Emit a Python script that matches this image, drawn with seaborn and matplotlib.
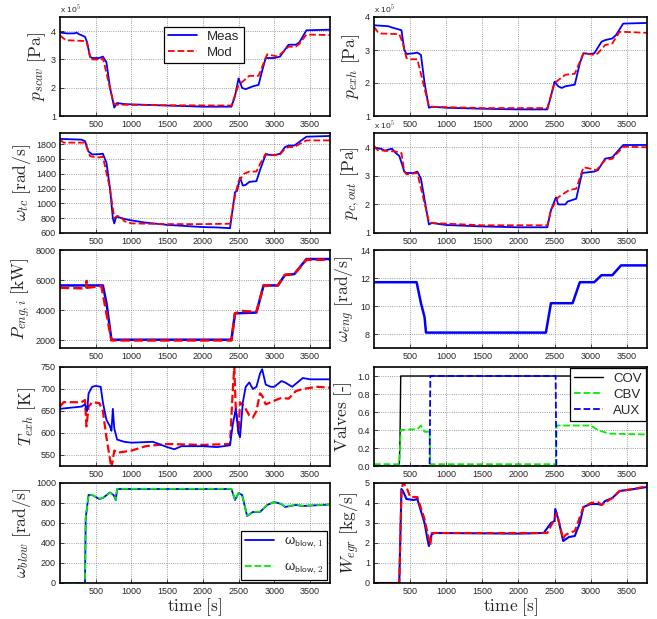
import numpy as np
import pandas as pd
import matplotlib
matplotlib.use('Agg')
import matplotlib.pyplot as plt
import seaborn as sns

# ---- data (time in s) ----
t_pscav_meas = [0, 100, 200, 230, 260, 350, 380, 420, 450, 550, 600, 650, 700, 760, 800, 900, 1500, 2000, 2400, 2450, 2500, 2550, 2600, 2700, 2780, 2830, 2880, 3000, 3080, 3150, 3200, 3300, 3350, 3450, 3780]
pscav_meas = [3.95, 3.92, 3.92, 3.95, 3.9, 3.8, 3.6, 3.1, 3.05, 3.05, 3.1, 2.9, 2.0, 1.3, 1.46, 1.42, 1.37, 1.33, 1.33, 1.7, 2.33, 1.99, 1.95, 2.05, 2.1, 2.6, 3.05, 3.05, 3.1, 3.35, 3.52, 3.52, 3.6, 4.03, 4.05]
t_pscav_mod = [0, 80, 370, 430, 580, 600, 750, 800, 1500, 2400, 2500, 2550, 2650, 2780, 2900, 3050, 3200, 3300, 3350, 3450, 3780]
pscav_mod = [3.85, 3.68, 3.65, 3.0, 3.0, 3.05, 1.45, 1.4, 1.38, 1.37, 2.1, 2.2, 2.42, 2.42, 3.18, 3.1, 3.45, 3.45, 3.55, 3.88, 3.86]

t_pexh_meas = [0, 200, 250, 300, 380, 420, 450, 550, 600, 650, 700, 760, 800, 1000, 1500, 2000, 2400, 2450, 2500, 2550, 2600, 2650, 2780, 2850, 2900, 3000, 3050, 3150, 3200, 3300, 3350, 3450, 3780]
pexh_meas = [3.75, 3.72, 3.68, 3.65, 3.6, 3.0, 2.88, 2.9, 2.92, 2.85, 2.0, 1.25, 1.28, 1.25, 1.22, 1.2, 1.2, 1.6, 2.04, 1.9, 1.85, 1.9, 1.95, 2.6, 2.9, 2.88, 2.9, 3.25, 3.3, 3.35, 3.45, 3.8, 3.82]
t_pexh_mod = [0, 50, 100, 350, 400, 450, 500, 600, 760, 800, 1500, 2400, 2500, 2650, 2780, 2900, 3050, 3100, 3200, 3300, 3400, 3450, 3780]
pexh_mod = [3.7, 3.55, 3.5, 3.48, 3.2, 2.75, 2.72, 2.72, 1.3, 1.28, 1.24, 1.24, 2.0, 2.25, 2.28, 2.9, 2.85, 2.9, 3.15, 3.2, 3.55, 3.55, 3.52]

t_wtc_meas = [0, 300, 350, 400, 450, 550, 600, 650, 700, 740, 760, 780, 800, 900, 1000, 1200, 1500, 2000, 2200, 2380, 2450, 2480, 2520, 2560, 2600, 2650, 2750, 2800, 2880, 3000, 3080, 3150, 3200, 3280, 3350, 3450, 3780]
wtc_meas = [1870, 1860, 1840, 1700, 1660, 1665, 1670, 1550, 1200, 800, 730, 800, 820, 790, 770, 740, 710, 680, 675, 665, 1150, 1170, 1350, 1240, 1250, 1290, 1300, 1450, 1660, 1650, 1670, 1760, 1780, 1780, 1830, 1900, 1910]
t_wtc_mod = [0, 50, 350, 420, 450, 550, 600, 700, 760, 800, 850, 900, 1000, 1500, 2000, 2380, 2450, 2500, 2580, 2650, 2750, 2800, 2880, 3000, 3080, 3150, 3200, 3280, 3350, 3450, 3780]
wtc_mod = [1860, 1820, 1820, 1640, 1630, 1620, 1630, 1200, 800, 830, 820, 760, 730, 720, 720, 725, 1100, 1300, 1400, 1430, 1430, 1530, 1670, 1650, 1660, 1740, 1760, 1760, 1800, 1850, 1850]

t_pcout_meas = [0, 100, 150, 200, 250, 300, 350, 420, 450, 550, 600, 650, 760, 800, 1000, 1500, 2000, 2400, 2450, 2520, 2550, 2650, 2680, 2800, 2880, 3050, 3100, 3200, 3300, 3450, 3780]
pcout_meas = [3.97, 3.95, 3.88, 3.92, 3.95, 3.8, 3.7, 3.15, 3.1, 3.1, 3.15, 2.9, 1.3, 1.35, 1.28, 1.23, 1.2, 1.2, 1.8, 2.25, 2.0, 2.0, 2.1, 2.2, 3.1, 3.15, 3.2, 3.6, 3.65, 4.08, 4.08]
t_pcout_mod = [0, 50, 300, 380, 420, 450, 600, 760, 800, 1500, 2400, 2450, 2550, 2700, 2800, 2900, 3000, 3080, 3200, 3300, 3450, 3780]
pcout_mod = [4.05, 3.9, 3.85, 3.8, 3.15, 3.05, 3.1, 1.4, 1.35, 1.27, 1.27, 1.8, 2.25, 2.5, 2.55, 3.3, 3.25, 3.2, 3.55, 3.6, 4.02, 4.0]

t_peng_meas = [0, 600, 650, 720, 2400, 2450, 2750, 2850, 3050, 3150, 3280, 3450, 3780]
peng_meas = [5650, 5650, 4500, 2050, 2050, 3800, 3850, 5650, 5650, 6350, 6400, 7400, 7400]
t_peng_mod = [0, 350, 368, 372, 380, 580, 720, 2400, 2450, 2550, 2750, 2850, 3050, 3150, 3280, 3450, 3780]
peng_mod = [5500, 5450, 5450, 5950, 5500, 5600, 2000, 2000, 3800, 3950, 3900, 5650, 5650, 6350, 6400, 7350, 7350]

t_weng = [0, 590, 650, 700, 720, 2380, 2450, 2750, 2850, 3050, 3150, 3300, 3420, 3780]
weng = [11.7, 11.7, 10.2, 9.2, 8.1, 8.1, 10.2, 10.2, 11.7, 11.7, 12.2, 12.2, 12.9, 12.9]

t_texh_meas = [0, 300, 350, 380, 400, 450, 500, 570, 600, 650, 700, 720, 740, 760, 800, 900, 1000, 1300, 1500, 1600, 1700, 2000, 2200, 2380, 2420, 2460, 2500, 2520, 2560, 2600, 2650, 2700, 2750, 2800, 2830, 2880, 2950, 3000, 3100, 3150, 3250, 3400, 3500, 3780]
texh_meas = [655, 660, 665, 650, 690, 705, 707, 705, 670, 630, 615, 605, 655, 610, 585, 580, 578, 580, 568, 563, 570, 570, 568, 572, 620, 655, 600, 590, 670, 705, 715, 700, 705, 735, 745, 710, 705, 705, 718, 715, 705, 725, 722, 722]
t_texh_mod = [0, 50, 300, 350, 370, 400, 450, 550, 600, 650, 700, 720, 760, 800, 1000, 1200, 1500, 2000, 2380, 2420, 2440, 2460, 2500, 2520, 2580, 2650, 2700, 2750, 2800, 2830, 2880, 2950, 3100, 3200, 3300, 3400, 3600, 3780]
texh_mod = [660, 670, 670, 675, 615, 660, 670, 668, 650, 590, 540, 520, 560, 555, 560, 570, 575, 573, 575, 700, 750, 660, 600, 670, 660, 640, 635, 650, 690, 685, 665, 670, 680, 678, 695, 700, 705, 703]

t_cov = [0, 350, 360, 370, 3780]
cov = [0.0, 0.0, 0.3, 1.0, 1.0]
t_cbv = [0, 350, 370, 600, 650, 700, 770, 780, 2515, 2530, 3000, 3100, 3250, 3780]
cbv = [0.02, 0.02, 0.4, 0.41, 0.45, 0.38, 0.38, 0.02, 0.02, 0.45, 0.45, 0.4, 0.36, 0.35]
t_aux = [0, 770, 780, 2515, 2525, 3780]
aux = [0.0, 0.0, 1.0, 1.0, 0.0, 0.0]

t_wblow = [0, 350, 360, 400, 450, 550, 600, 700, 750, 780, 800, 2400, 2450, 2480, 2500, 2550, 2620, 2700, 2800, 2900, 3000, 3100, 3150, 3300, 3400, 3780]
wblow1 = [0, 0, 650, 880, 880, 840, 850, 905, 880, 830, 940, 940, 830, 870, 900, 880, 670, 710, 710, 780, 810, 790, 760, 780, 770, 785]
wblow2 = [0, 0, 650, 885, 880, 842, 852, 902, 882, 832, 942, 942, 832, 872, 898, 878, 672, 712, 712, 782, 808, 792, 762, 782, 772, 787]

t_wegr_meas = [0, 350, 380, 400, 450, 550, 600, 700, 740, 760, 800, 850, 2000, 2350, 2450, 2500, 2510, 2550, 2620, 2700, 2780, 2850, 2900, 3000, 3100, 3150, 3200, 3300, 3400, 3600, 3780]
wegr_meas = [0, 0, 4.7, 4.6, 4.2, 4.15, 4.2, 3.0, 2.2, 1.85, 2.45, 2.5, 2.47, 2.5, 3.0, 3.1, 3.7, 3.2, 2.1, 2.3, 2.35, 3.0, 3.8, 3.95, 3.95, 3.9, 4.1, 4.25, 4.6, 4.7, 4.8]
t_wegr_mod = [0, 350, 380, 400, 450, 500, 600, 700, 760, 780, 800, 2400, 2500, 2530, 2620, 2650, 2700, 2780, 2900, 3000, 3100, 3150, 3300, 3400, 3600, 3780]
wegr_mod = [0, 0, 4.5, 5.0, 4.8, 4.3, 4.3, 3.2, 2.2, 1.9, 2.5, 2.5, 3.2, 3.5, 2.2, 2.4, 2.5, 2.6, 3.8, 4.0, 4.05, 3.9, 4.25, 4.6, 4.7, 4.85]

xticks = [500, 1000, 1500, 2000, 2500, 3000, 3500]

# ---- style ----
sns.set_style('ticks')
plt.rcParams['font.family'] = ['Liberation Sans', 'DejaVu Sans']
plt.rcParams['mathtext.fontset'] = 'cm'

BLUE, RED, GREEN = '#0000ff', '#ff0000', '#00ee00'

fig = plt.figure(figsize=(6.57, 6.19), dpi=100)
W, H = 657, 619
col_x = [(60, 330), (374, 647)]
row_y = [(17, 116), (133, 233), (250, 348), (367, 466), (483, 583)]


def make_ax(r, c):
    x0, x1 = col_x[c]
    y0, y1 = row_y[r]
    return fig.add_axes([x0 / W, 1 - y1 / H, (x1 - x0) / W, (y1 - y0) / H])


def line(ax, t, y, color, ls='-', lw=1.3, label=None):
    sns.lineplot(x=t, y=y, ax=ax, color=color, linestyle=ls, linewidth=lw,
                 estimator=None, sort=False, label=label, legend=False)


def finish(ax, ylim, yticks, ylabel, xlabel=False, sci=False):
    ax.set_xlim(0, 3780)
    ax.set_ylim(*ylim)
    ax.set_xticks(xticks)
    ax.set_yticks(yticks)
    ax.grid(True, linestyle=':', color='0.5', linewidth=0.6)
    ax.tick_params(direction='in', labelsize=6.5, length=3, width=0.6, pad=3)
    for s in ax.spines.values():
        s.set_linewidth(1.2)
        s.set_color('black')
    ax.set_ylabel(ylabel, fontsize=12.5, labelpad=2)
    if xlabel:
        ax.set_xlabel(r'$\mathrm{time\ [s]}$', fontsize=12.5, labelpad=0)
    else:
        ax.set_xlabel('')
    if sci:
        ax.text(0.0, 1.02, r'x 10$^{5}$', transform=ax.transAxes, fontsize=6,
                ha='left', va='bottom')


def legend(ax, spacing=0.3, **kw):
    leg = ax.legend(fontsize=9.5, frameon=True, fancybox=False, framealpha=1,
                    edgecolor='black', handlelength=2.2, borderpad=0.3,
                    labelspacing=spacing, **kw)
    leg.get_frame().set_linewidth(0.9)
    return leg


# p_scav
ax = make_ax(0, 0)
line(ax, t_pscav_meas, pscav_meas, BLUE, label='Meas')
line(ax, t_pscav_mod, pscav_mod, RED, '--', label='Mod')
finish(ax, (1, 4.5), [1, 2, 3, 4], r'$p_{scav}\ \mathrm{[Pa]}$', sci=True)
legend(ax, loc='upper left', bbox_to_anchor=(0.36, 0.97))

# p_exh
ax = make_ax(0, 1)
line(ax, t_pexh_meas, pexh_meas, BLUE)
line(ax, t_pexh_mod, pexh_mod, RED, '--')
finish(ax, (1, 4), [1, 2, 3, 4], r'$p_{exh}\ \mathrm{[Pa]}$', sci=True)

# omega_tc
ax = make_ax(1, 0)
line(ax, t_wtc_meas, wtc_meas, BLUE)
line(ax, t_wtc_mod, wtc_mod, RED, '--')
finish(ax, (600, 1950), [600, 800, 1000, 1200, 1400, 1600, 1800],
       r'$\omega_{tc}\ \mathrm{[rad/s]}$')

# p_c,out
ax = make_ax(1, 1)
line(ax, t_pcout_meas, pcout_meas, BLUE)
line(ax, t_pcout_mod, pcout_mod, RED, '--')
finish(ax, (1, 4.5), [1, 2, 3, 4], r'$p_{c,out}\ \mathrm{[Pa]}$', sci=True)

# P_eng,i
ax = make_ax(2, 0)
line(ax, t_peng_meas, peng_meas, BLUE, lw=1.8)
line(ax, t_peng_mod, peng_mod, RED, '--', lw=1.8)
finish(ax, (1500, 8000), [2000, 4000, 6000, 8000], r'$P_{eng,i}\ \mathrm{[kW]}$')

# omega_eng
ax = make_ax(2, 1)
line(ax, t_weng, weng, BLUE, lw=1.8)
finish(ax, (7, 14), [8, 10, 12, 14], r'$\omega_{eng}\ \mathrm{[rad/s]}$')

# T_exh
ax = make_ax(3, 0)
line(ax, t_texh_mod, texh_mod, RED, '--', lw=1.6)
line(ax, t_texh_meas, texh_meas, BLUE, lw=1.3)
finish(ax, (525, 750), [550, 600, 650, 700, 750], r'$T_{exh}\ \mathrm{[K]}$')

# Valves
ax = make_ax(3, 1)
line(ax, t_cov, cov, 'black', lw=1.0, label='COV')
line(ax, t_cbv, cbv, GREEN, '--', lw=1.3, label='CBV')
line(ax, t_aux, aux, BLUE, '--', lw=1.3, label='AUX')
finish(ax, (0, 1.1), [0, 0.2, 0.4, 0.6, 0.8, 1], r'$\mathrm{Valves\ [\text{-}]}$')
legend(ax, loc='upper right', borderaxespad=0.1)

# omega_blow
ax = make_ax(4, 0)
line(ax, t_wblow, wblow1, BLUE, lw=1.3, label='ω$_{\\mathsf{blow,1}}$')
line(ax, t_wblow, wblow2, GREEN, '--', lw=1.3, label='ω$_{\\mathsf{blow,2}}$')
finish(ax, (0, 1000), [0, 200, 400, 600, 800, 1000], r'$\omega_{blow}\ \mathrm{[rad/s]}$',
       xlabel=True)
legend(ax, spacing=0.8, loc='lower right', borderaxespad=0.2)

# W_egr
ax = make_ax(4, 1)
line(ax, t_wegr_meas, wegr_meas, BLUE, lw=1.5)
line(ax, t_wegr_mod, wegr_mod, RED, '--', lw=1.5)
finish(ax, (0, 5), [0, 1, 2, 3, 4, 5], r'$W_{egr}\ \mathrm{[kg/s]}$', xlabel=True)

fig.savefig('out.png', dpi=100)
